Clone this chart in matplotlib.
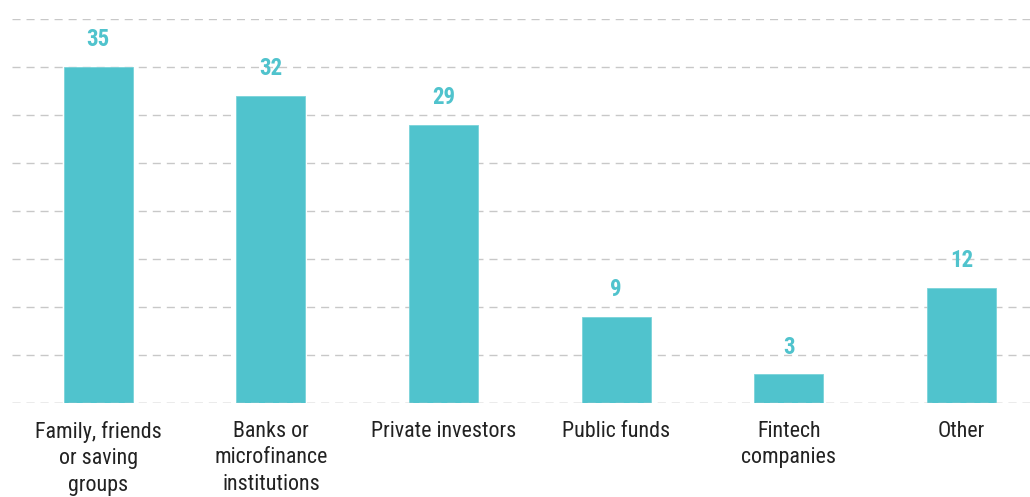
import matplotlib
matplotlib.use("Agg")
import matplotlib.pyplot as plt
from matplotlib import font_manager

categories = ["Family, friends\nor saving\ngroups", "Banks or\nmicrofinance\ninstitutions",
              "Private investors", "Public funds", "Fintech\ncompanies", "Other"]
values = [35, 32, 29, 9, 3, 12]
yticks = [0, 5, 10, 15, 20, 25, 30, 35, 40]

names = {f.name for f in font_manager.fontManager.ttflist}
fam = [n for n in ["Liberation Sans Narrow", "Roboto Condensed", "Arial Narrow", "Roboto"] if n in names] + ["DejaVu Sans"]
plt.rcParams['font.family'] = fam

W, H = 1030, 497
fig = plt.figure(figsize=(W / 100, H / 100), dpi=100)
ax = fig.add_axes([12 / W, (H - 403) / H, 1 - 12 / W, (403 - 19) / H])

bar_color = "#50C3CD"
x = list(range(len(values)))
ax.bar(x, values, width=0.40, color=bar_color, edgecolor="#7AD3DA", linewidth=0.6, zorder=2)

for xi, v in zip(x, values):
    ax.annotate(str(v), (xi, v), xytext=(0, 27 * 0.72), textcoords="offset points",
                ha="center", va="center", fontsize=16.5, fontweight="bold", color=bar_color)

ax.set_ylim(0, 40)
ax.set_xlim(-0.5, 5.398)
ax.set_yticks(yticks)
ax.yaxis.grid(True, color="#C8C8C8", linestyle=(0, (5.8, 4.3)), linewidth=1.0, zorder=0)
ax.set_axisbelow(True)
ax.axhline(0, color="#C8C8C8", linestyle=(0, (5.8, 4.3)), linewidth=1.0, zorder=3)
ax.tick_params(axis="y", left=False, labelleft=False)
ax.tick_params(axis="x", bottom=False, pad=9.5, labelsize=15.8, colors="#222222")
ax.set_xticks(x)
ax.set_xticklabels(categories, linespacing=1.34)
for s in ax.spines.values():
    s.set_visible(False)

fig.savefig("out.png", dpi=100)
